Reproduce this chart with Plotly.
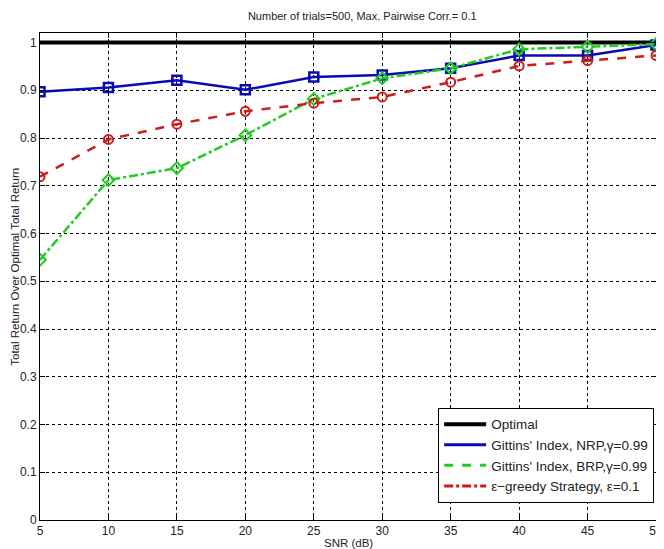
import plotly.graph_objects as go

snr = [5, 10, 15, 20, 25, 30, 35, 40, 45, 50]
optimal = [1, 1, 1, 1, 1, 1, 1, 1, 1, 1]
gittins_nrp = [0.897, 0.906, 0.921, 0.901, 0.928, 0.932, 0.946, 0.973, 0.973, 0.995]
gittins_brp = [0.545, 0.712, 0.737, 0.806, 0.882, 0.925, 0.946, 0.986, 0.991, 0.997]
eps_greedy = [0.719, 0.797, 0.829, 0.856, 0.873, 0.886, 0.917, 0.951, 0.962, 0.973]

x_ticks = [5, 10, 15, 20, 25, 30, 35, 40, 45, 50]
y_ticks = [0, 0.1, 0.2, 0.3, 0.4, 0.5, 0.6, 0.7, 0.8, 0.9, 1]
y_tick_labels = ["0", "0.1", "0.2", "0.3", "0.4", "0.5", "0.6", "0.7", "0.8", "0.9", "1"]

BLUE = "#0a0ab4"
GREEN = "#20cc20"
RED = "#cc1c1c"

fig = go.Figure()
fig.add_trace(go.Scatter(x=snr, y=optimal, mode="lines", name="Optimal",
                         line=dict(color="black", width=4), showlegend=False))
fig.add_trace(go.Scatter(x=snr, y=gittins_nrp, mode="lines+markers",
                         name="Gittins' Index, NRP,γ=0.99", showlegend=False,
                         line=dict(color=BLUE, width=2.5),
                         marker=dict(symbol="square-open", size=9, color=BLUE,
                                     line=dict(width=2.5, color=BLUE))))
fig.add_trace(go.Scatter(x=snr, y=gittins_brp, mode="lines+markers",
                         name="Gittins' Index, BRP,γ=0.99", showlegend=False,
                         line=dict(color=GREEN, width=2.5, dash="dashdot"),
                         marker=dict(symbol="diamond-open", size=9, color=GREEN,
                                     line=dict(width=2, color=GREEN))))
fig.add_trace(go.Scatter(x=snr, y=eps_greedy, mode="lines+markers",
                         name="ε−greedy Strategy, ε=0.1", showlegend=False,
                         line=dict(color=RED, width=2.5, dash="dash"),
                         marker=dict(symbol="circle-open", size=9, color=RED,
                                     line=dict(width=2, color=RED))))

# legend entries (lines only, as in the reference legend)
legend_items = [
    ("Optimal", "black", 4, "solid"),
    ("Gittins' Index, NRP,γ=0.99", BLUE, 3, "solid"),
    ("Gittins' Index, BRP,γ=0.99", GREEN, 3, "dash"),
    ("ε−greedy Strategy, ε=0.1", RED, 3, "dashdot"),
]
for name, col, w, dash in legend_items:
    fig.add_trace(go.Scatter(x=[None], y=[None], mode="lines", name=name,
                             line=dict(color=col, width=w, dash=dash)))

axis_common = dict(showline=True, linecolor="black", linewidth=1, mirror="allticks",
                   ticks="inside", ticklen=5, tickcolor="black",
                   showgrid=True, gridcolor="black", griddash="dot", gridwidth=1,
                   zeroline=False, tickfont=dict(size=12, color="#222"),
                   automargin=False)

fig.update_layout(
    width=656, height=541,
    margin=dict(l=32, r=8, t=25, b=29),
    paper_bgcolor="white", plot_bgcolor="white",
    font=dict(family="Liberation Sans, Arial, sans-serif", color="#222"),
    title=dict(text="Number of trials=500, Max. Pairwise Corr.= 0.1",
               x=0.54, xanchor="center", y=0.985, yanchor="middle",
               font=dict(size=11)),
    xaxis=dict(range=[5, 50], tickvals=x_ticks, **axis_common),
    yaxis=dict(range=[0, 1.02], tickvals=y_ticks, ticktext=y_tick_labels, **axis_common),
    legend=dict(x=0.997, y=0.035, xanchor="right", yanchor="bottom",
                bgcolor="white", bordercolor="black", borderwidth=1,
                font=dict(size=13.5), tracegroupgap=0, itemwidth=42),
    showlegend=True,
    annotations=[
        dict(text="SNR (dB)", xref="paper", yref="paper", x=0.5, y=0,
             yshift=-23, xanchor="center", yanchor="middle", showarrow=False,
             font=dict(size=11.5, color="#222")),
        dict(text="Total Return Over Optimal Total Return", xref="paper", yref="paper",
             x=0, y=0.52, xshift=-25, xanchor="center", yanchor="middle",
             textangle=-90, showarrow=False, font=dict(size=11.5, color="#222")),
    ],
)

fig.write_html("out.html")
